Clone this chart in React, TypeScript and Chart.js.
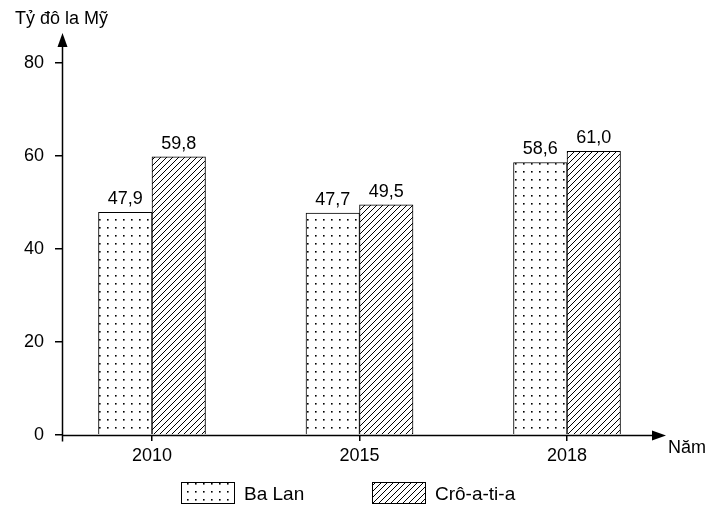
import React, { useEffect, useRef } from "react";
import { Chart, registerables } from "chart.js";

Chart.register(...registerables);

const years = ["2010", "2015", "2018"];
const baLan = [47.9, 47.7, 58.6];
const croatia = [59.8, 49.5, 61.0];
const seriesNames = ["Ba Lan", "Crô-a-ti-a"];
const yTicks = [0, 20, 40, 60, 80];
const yTitle = "Tỷ đô la Mỹ";
const xTitle = "Năm";

const FONT = "'Liberation Sans', Arial, sans-serif";

function makeDots(): CanvasPattern | string {
  const c = document.createElement("canvas");
  c.width = 8;
  c.height = 8;
  const g = c.getContext("2d")!;
  g.fillStyle = "#fff";
  g.fillRect(0, 0, 8, 8);
  g.fillStyle = "#000";
  g.fillRect(3, 3, 1.6, 1.6);
  return g.createPattern(c, "repeat") || "#fff";
}

function makeHatch(): CanvasPattern | string {
  const s = 6;
  const c = document.createElement("canvas");
  c.width = s;
  c.height = s;
  const g = c.getContext("2d")!;
  g.fillStyle = "#fff";
  g.fillRect(0, 0, s, s);
  g.strokeStyle = "#000";
  g.lineWidth = 1;
  g.beginPath();
  g.moveTo(-1, s + 1);
  g.lineTo(s + 1, -1);
  g.moveTo(-1, 1);
  g.lineTo(1, -1);
  g.moveTo(s - 1, s + 1);
  g.lineTo(s + 1, s - 1);
  g.stroke();
  return g.createPattern(c, "repeat") || "#fff";
}

const fmt = (v: number) => v.toFixed(1).replace(".", ",");

const decorPlugin = {
  id: "decor",
  afterDraw(chart: any) {
    const ctx = chart.ctx as CanvasRenderingContext2D;
    const x = chart.scales.x;
    const y = chart.scales.y;
    const ax = Math.round(x.left) + 0.5;
    const ay = Math.round(y.getPixelForValue(0)) + 0.5;
    ctx.save();
    ctx.strokeStyle = "#000";
    ctx.fillStyle = "#000";
    ctx.lineWidth = 1.5;
    // y axis extension + arrow
    ctx.beginPath();
    ctx.moveTo(ax, ay + 6);
    ctx.lineTo(ax, 44);
    ctx.stroke();
    ctx.beginPath();
    ctx.moveTo(ax, 33);
    ctx.lineTo(ax - 5, 47);
    ctx.lineTo(ax + 5, 47);
    ctx.closePath();
    ctx.fill();
    // x axis extension + arrow
    ctx.beginPath();
    ctx.moveTo(ax, ay);
    ctx.lineTo(655, ay);
    ctx.stroke();
    ctx.beginPath();
    ctx.moveTo(666, ay);
    ctx.lineTo(652, ay - 5);
    ctx.lineTo(652, ay + 5);
    ctx.closePath();
    ctx.fill();

    // titles
    ctx.font = `18px ${FONT}`;
    ctx.textAlign = "left";
    ctx.textBaseline = "alphabetic";
    ctx.fillText(yTitle, 15, 24);
    ctx.fillText(xTitle, 668, 453);

    // value labels
    ctx.textAlign = "center";
    ctx.textBaseline = "bottom";
    chart.data.datasets.forEach((ds: any, i: number) => {
      const meta = chart.getDatasetMeta(i);
      meta.data.forEach((el: any, j: number) => {
        ctx.fillText(fmt(ds.data[j].y), el.x, el.y - 4);
      });
    });

    // legend
    const legendX = [181, 372];
    const boxW = 53;
    const boxH = 21;
    const top = 482;
    ctx.font = `19px ${FONT}`;
    ctx.textAlign = "left";
    ctx.textBaseline = "middle";
    chart.data.datasets.forEach((ds: any, i: number) => {
      const lx = legendX[i];
      ctx.fillStyle = ds.backgroundColor;
      ctx.fillRect(lx, top, boxW, boxH);
      ctx.lineWidth = 1;
      ctx.strokeStyle = "#000";
      ctx.strokeRect(lx + 0.5, top + 0.5, boxW, boxH);
      ctx.fillStyle = "#000";
      ctx.fillText(ds.label, lx + boxW + 10, top + boxH / 2 + 2);
    });
    ctx.restore();
  },
};

export default function App() {
  const ref = useRef<HTMLCanvasElement | null>(null);
  useEffect(() => {
    document.body.style.margin = "0";
    const canvas = ref.current!;
    const chart = new Chart(canvas, {
      type: "bar",
      data: {
        datasets: [
          {
            label: seriesNames[0],
            data: baLan.map((v, i) => ({ x: i, y: v })),
            backgroundColor: makeDots() as any,
            borderColor: "#000",
            borderWidth: 1,
            barThickness: 53.5,
          },
          {
            label: seriesNames[1],
            data: croatia.map((v, i) => ({ x: i, y: v })),
            backgroundColor: makeHatch() as any,
            borderColor: "#000",
            borderWidth: 1,
            barThickness: 53.5,
          },
        ],
      },
      options: {
        animation: false,
        responsive: false,
        layout: { padding: { top: 63, right: 56, left: 0, bottom: 37 } },
        plugins: { legend: { display: false }, tooltip: { enabled: false } },
        scales: {
          x: {
            type: "linear",
            min: -0.4337,
            max: 2.424,
            offset: false,
            afterFit(scale: any) {
              scale.height = 40;
            },
            afterBuildTicks(scale: any) {
              scale.ticks = years.map((_, i) => ({ value: i }));
            },
            ticks: {
              autoSkip: false,
              maxRotation: 0,
              padding: 4,
              color: "#000",
              font: { family: FONT, size: 18 },
              callback: (v: any) => (Number.isInteger(v) && years[v] ? years[v] : ""),
            },
            grid: {
              display: true,
              offset: false,
              drawOnChartArea: false,
              drawTicks: true,
              tickLength: 6,
              color: "#000",
              lineWidth: 1.5,
            },
            border: { display: false },
          },
          y: {
            min: 0,
            max: 80,
            afterFit(scale: any) {
              scale.width = 62;
            },
            afterBuildTicks(scale: any) {
              scale.ticks = yTicks.map((v) => ({ value: v }));
            },
            ticks: {
              padding: 11,
              color: "#000",
              font: { family: FONT, size: 18 },
            },
            grid: {
              display: true,
              drawOnChartArea: false,
              drawTicks: true,
              tickLength: 7,
              color: "#000",
              lineWidth: 1.5,
            },
            border: { display: false },
          },
        },
      },
      plugins: [decorPlugin],
    });
    return () => chart.destroy();
  }, []);
  return (
    <div style={{ width: 711, height: 512, background: "#fff" }}>
      <canvas ref={ref} width={711} height={512} />
    </div>
  );
}
